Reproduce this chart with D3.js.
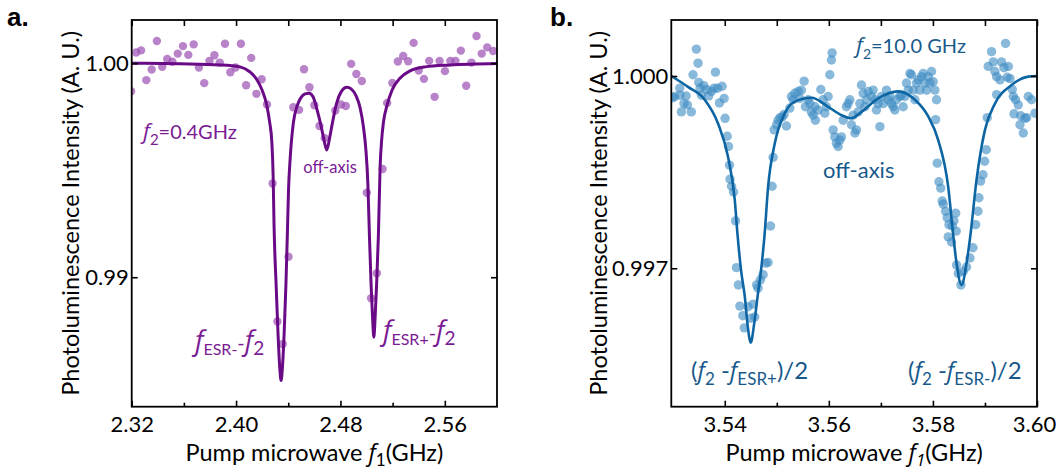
<!DOCTYPE html>
<html>
<head>
<meta charset="utf-8">
<script src="https://cdn.jsdelivr.net/npm/d3@7"></script>
<style>
  body { margin: 0; background: #ffffff; }
  svg { display: block; }
</style>
</head>
<body>
<div id="chart"></div>
<script>
// ---- panel a: f2 = 0.4 GHz (frequency GHz, normalised PL) ----
const aPoints = [
  [2.3195,0.99869],[2.3234,1.00050],[2.3272,1.00060],[2.3312,0.99921],[2.3353,0.99971],[2.3393,1.00104],
  [2.3434,0.99983],[2.3472,1.00020],[2.3512,1.00007],[2.3553,1.00045],[2.3593,1.00080],[2.3634,1.00039],
  [2.3675,1.00088],[2.3715,0.99980],[2.3756,0.99907],[2.3796,1.00011],[2.3834,1.00037],[2.3875,1.00003],
  [2.3915,1.00091],[2.3956,0.99958],[2.3996,0.99980],[2.4037,1.00091],[2.4077,0.99897],[2.4116,1.00025],
  [2.4156,0.99857],[2.4196,0.99925],[2.4237,0.99807],[2.4280,0.99438],[2.4317,0.98793],[2.4358,0.98688],
  [2.4402,0.99096],[2.4439,0.99794],[2.4483,0.99782],[2.4521,0.99972],[2.4562,0.99888],[2.4600,0.99804],
  [2.4639,0.99707],[2.4680,0.99650],[2.4761,0.99779],[2.4803,0.99807],[2.4841,0.99800],[2.4882,0.99997],
  [2.4922,0.99950],[2.4964,0.99917],[2.5002,0.99395],[2.5035,0.98902],[2.5079,0.99019],[2.5123,0.99506],
  [2.5158,0.99814],[2.5198,0.99908],[2.5240,1.00008],[2.5281,1.00034],[2.5319,1.00009],[2.5361,1.00095],
  [2.5400,0.99966],[2.5440,0.99927],[2.5480,1.00011],[2.5522,0.99843],[2.5560,1.00011],[2.5601,0.99963],
  [2.5642,1.00011],[2.5682,1.00011],[2.5723,1.00059],[2.5764,0.99895],[2.5804,1.00003],[2.5843,1.00127],
  [2.5883,1.00045],[2.5925,1.00074],[2.5971,1.00057]
];
const aFit = [
  [2.3200,1.00000],[2.3570,0.99997],[2.3877,0.99992],[2.4030,0.99983],[2.4107,0.99959],[2.4161,0.99922],
  [2.4199,0.99875],[2.4235,0.99805],[2.4257,0.99726],[2.4274,0.99632],[2.4284,0.99478],[2.4291,0.99244],
  [2.4307,0.98964],[2.4322,0.98730],[2.4336,0.98567],[2.4345,0.98517],[2.4354,0.98567],[2.4368,0.98730],
  [2.4382,0.98964],[2.4393,0.99198],[2.4402,0.99408],[2.4414,0.99548],[2.4439,0.99721],[2.4468,0.99800],
  [2.4491,0.99833],[2.4529,0.99857],[2.4560,0.99860],[2.4590,0.99843],[2.4621,0.99782],[2.4648,0.99716],
  [2.4671,0.99651],[2.4695,0.99595],[2.4717,0.99651],[2.4740,0.99726],[2.4771,0.99814],[2.4805,0.99866],
  [2.4849,0.99888],[2.4882,0.99880],[2.4920,0.99847],[2.4951,0.99791],[2.4976,0.99704],[2.4995,0.99595],
  [2.5010,0.99441],[2.5022,0.99198],[2.5035,0.98964],[2.5047,0.98800],[2.5056,0.98720],[2.5065,0.98800],
  [2.5077,0.98964],[2.5091,0.99198],[2.5104,0.99515],[2.5116,0.99642],[2.5129,0.99721],[2.5158,0.99805],
  [2.5196,0.99875],[2.5258,0.99931],[2.5334,0.99964],[2.5449,0.99983],[2.5641,0.99992],[2.6001,0.99999]
];
const aXDomain = [2.32, 2.60];
const aYDomain = [0.98395, 1.00202];
const aXTicks = [2.32, 2.40, 2.48, 2.56];
const aXMinor = [2.36, 2.44, 2.52];
const aYTicks = [0.99, 1.00];

// ---- panel b: f2 = 10.0 GHz ----
const bPoints = [
  [3.53000,0.99966],[3.53038,0.99968],[3.53135,0.99981],[3.53167,0.99944],[3.53217,0.99957],[3.53281,0.99955],
  [3.53358,0.99944],[3.53390,1.00002],[3.53454,1.00042],[3.53487,1.00020],[3.53500,0.99990],[3.53552,0.99970],
  [3.53596,0.99985],[3.53654,0.99979],[3.53692,0.99969],[3.53744,0.99976],[3.53796,0.99981],[3.53821,1.00006],
  [3.53860,0.99981],[3.53898,0.99958],[3.53950,0.99984],[3.53988,0.99965],[3.53140,0.99970],[3.53256,0.99969],
  [3.53525,0.99981],[3.54006,0.99934],[3.54048,0.99906],[3.54073,0.99890],[3.54092,0.99861],[3.54102,0.99839],
  [3.54131,0.99828],[3.54169,0.99819],[3.54208,0.99774],[3.54225,0.99701],[3.54262,0.99674],[3.54290,0.99641],
  [3.54348,0.99626],[3.54375,0.99607],[3.54448,0.99640],[3.54500,0.99622],[3.54544,0.99644],[3.54577,0.99624],
  [3.54612,0.99674],[3.54640,0.99669],[3.54685,0.99682],[3.54737,0.99690],[3.54788,0.99708],[3.54833,0.99709],
  [3.54879,0.99766],[3.54910,0.99828],[3.54929,0.99873],[3.54948,0.99916],[3.54996,0.99924],[3.55025,0.99931],
  [3.55063,0.99935],[3.55102,0.99936],[3.55140,0.99940],[3.55185,0.99922],[3.55250,0.99950],[3.55281,0.99968],
  [3.55313,0.99963],[3.55346,0.99973],[3.55410,0.99976],[3.55442,0.99965],[3.55473,0.99978],[3.55525,0.99992],
  [3.55550,0.99952],[3.55602,0.99963],[3.55635,0.99957],[3.55665,0.99944],[3.55698,0.99939],[3.55731,0.99952],
  [3.55742,0.99931],[3.55794,0.99947],[3.55846,0.99979],[3.55890,0.99963],[3.55923,0.99942],[3.55954,0.99952],
  [3.55987,0.99968],[3.56019,1.00002],[3.56050,1.00025],[3.56063,1.00036],[3.56083,0.99916],[3.56115,0.99905],
  [3.56146,0.99895],[3.56179,0.99890],[3.56212,0.99900],[3.56242,0.99905],[3.56275,0.99931],[3.56338,0.99952],
  [3.56371,0.99957],[3.56404,0.99963],[3.56435,0.99924],[3.56467,0.99939],[3.56500,0.99911],[3.56531,0.99916],
  [3.56563,0.99944],[3.56596,0.99957],[3.56627,0.99986],[3.56660,0.99973],[3.56692,0.99952],[3.56723,0.99963],
  [3.56756,0.99976],[3.56819,0.99968],[3.56852,0.99978],[3.56885,0.99963],[3.56915,0.99947],[3.56948,0.99957],
  [3.56981,0.99921],[3.57012,0.99968],[3.57044,0.99957],[3.57108,0.99978],[3.57140,0.99963],[3.57173,0.99968],
  [3.57204,0.99957],[3.57237,0.99952],[3.57269,0.99947],[3.57300,0.99963],[3.57365,0.99968],[3.57396,0.99970],
  [3.57429,0.99952],[3.57462,0.99968],[3.57492,0.99989],[3.57525,0.99978],[3.57558,1.00004],[3.57588,1.00002],
  [3.57621,0.99978],[3.57654,0.99963],[3.57685,0.99989],[3.57717,0.99994],[3.57750,0.99978],[3.57781,0.99999],
  [3.57813,1.00004],[3.57846,0.99989],[3.57877,0.99978],[3.57910,0.99999],[3.57942,0.99989],[3.57973,1.00007],
  [3.58006,0.99991],[3.58038,0.99978],[3.58069,0.99963],[3.58052,0.99932],[3.58083,0.99864],[3.58115,0.99835],
  [3.58150,0.99825],[3.58179,0.99805],[3.58198,0.99800],[3.58244,0.99789],[3.58275,0.99779],[3.58308,0.99768],
  [3.58371,0.99766],[3.58404,0.99774],[3.58437,0.99786],[3.58448,0.99758],[3.58454,0.99705],[3.58487,0.99692],
  [3.58538,0.99674],[3.58583,0.99695],[3.58646,0.99702],[3.58712,0.99716],[3.58769,0.99732],[3.58821,0.99768],
  [3.58865,0.99789],[3.58885,0.99810],[3.58917,0.99836],[3.58962,0.99846],[3.58994,0.99867],[3.59025,0.99885],
  [3.59044,0.99935],[3.58294,0.99749],[3.58358,0.99741],[3.59063,1.00015],[3.59127,1.00038],[3.59160,1.00022],
  [3.59192,1.00007],[3.59223,0.99999],[3.59225,0.99971],[3.59288,0.99994],[3.59319,1.00022],[3.59396,1.00051],
  [3.59448,1.00015],[3.59481,0.99996],[3.59525,0.99979],[3.59544,0.99968],[3.59558,0.99941],[3.59588,0.99963],
  [3.59640,0.99955],[3.59673,0.99924],[3.59737,0.99911],[3.59769,0.99934],[3.59833,0.99968],[3.59896,0.99963],
  [3.59962,0.99942],[3.59365,1.00013],[3.59429,0.99998],[3.59687,0.99938],[3.59802,0.99935]
];
const bFit = [
  [3.52973,1.00000],[3.53294,0.99983],[3.53615,0.99963],[3.53871,0.99926],[3.54063,0.99874],[3.54192,0.99807],
  [3.54246,0.99752],[3.54313,0.99697],[3.54385,0.99656],[3.54438,0.99612],[3.54500,0.99584],[3.54563,0.99612],
  [3.54631,0.99656],[3.54698,0.99697],[3.54765,0.99752],[3.54833,0.99827],[3.54962,0.99895],[3.55154,0.99942],
  [3.55346,0.99960],[3.55665,0.99966],[3.55987,0.99952],[3.56242,0.99939],[3.56435,0.99934],[3.56627,0.99944],
  [3.56948,0.99965],[3.57333,0.99976],[3.57654,0.99963],[3.57910,0.99937],[3.58102,0.99900],[3.58294,0.99827],
  [3.58390,0.99752],[3.58454,0.99708],[3.58550,0.99674],[3.58646,0.99708],[3.58721,0.99752],[3.58838,0.99838],
  [3.59000,0.99916],[3.59192,0.99957],[3.59512,0.99986],[3.59833,0.99999],[3.60006,1.00000]
];
const bXDomain = [3.52973, 3.60];
const bYDomain = [0.99484, 1.000874];
const bXTicks = [3.54, 3.56, 3.58, 3.60];
const bXMinor = [3.55, 3.57, 3.59];
const bYTicks = [0.997, 1.000];

const svg = d3.select("#chart")
  .append("svg")
  .attr("width", 1058)
  .attr("height", 474)
  .style("font-family", "Lato, sans-serif");

// writes a label made of pieces (italic f, subscripts ...)
function richText(parent, x, y, parts, color, size, anchor) {
  const t = parent.append("text")
    .attr("x", x)
    .attr("y", y)
    .attr("fill", color)
    .attr("text-anchor", anchor || "start")
    .style("font-size", size + "px");
  parts.forEach(p => {
    const ts = t.append("tspan").text(p.t);
    if (p.it) ts.style("font-style", "italic").style("font-family", "'Open Sans', sans-serif");
    if (p.size) ts.style("font-size", p.size + "px");
    if (p.dy) ts.attr("dy", p.dy);
  });
  return t;
}

function drawPanel(o) {
  const g = svg.append("g");
  const x = d3.scaleLinear().domain(o.xDomain).range([o.left, o.right]);
  const y = d3.scaleLinear().domain(o.yDomain).range([o.bottom, o.top]);

  const clipId = "clip-" + o.name;
  svg.append("clipPath").attr("id", clipId)
    .append("rect")
    .attr("x", o.left).attr("y", o.top)
    .attr("width", o.right - o.left).attr("height", o.bottom - o.top);

  const plot = g.append("g").attr("clip-path", `url(#${clipId})`);

  plot.selectAll("circle")
    .data(o.points)
    .enter()
    .append("circle")
    .attr("cx", d => x(d[0]))
    .attr("cy", d => y(d[1]))
    .attr("r", o.r)
    .attr("fill", o.dot)
    .attr("fill-opacity", o.dotOpacity);

  plot.append("path")
    .datum(o.fit)
    .attr("fill", "none")
    .attr("stroke", o.line)
    .attr("stroke-width", o.lineWidth)
    .attr("stroke-linejoin", "round")
    .attr("d", d3.line()
      .x(d => x(d[0]))
      .y(d => y(d[1]))
      .curve(d3.curveMonotoneX));

  // axes, ticks pointing inwards
  const bottom = g.append("g")
    .attr("transform", `translate(0,${o.bottom})`)
    .call(d3.axisBottom(x).tickValues(o.xTicks).tickFormat(d3.format(".2f"))
      .tickSize(-6).tickPadding(10));
  const bottomMinor = g.append("g")
    .attr("transform", `translate(0,${o.bottom})`)
    .call(d3.axisBottom(x).tickValues(o.xMinor).tickFormat("").tickSize(-4));
  const top = g.append("g")
    .attr("transform", `translate(0,${o.top})`)
    .call(d3.axisTop(x).tickValues(o.xTicks.concat(o.xMinor)).tickFormat("").tickSize(-6));
  const left = g.append("g")
    .attr("transform", `translate(${o.left},0)`)
    .call(d3.axisLeft(y).tickValues(o.yTicks).tickFormat(d3.format(o.yFormat))
      .tickSize(-6).tickPadding(3));
  const right = g.append("g")
    .attr("transform", `translate(${o.right},0)`)
    .call(d3.axisRight(y).tickValues(o.yTicks).tickFormat("").tickSize(-6));

  [bottom, bottomMinor, top, left, right].forEach(a => {
    a.select(".domain").remove();
    a.selectAll("line").attr("stroke", "#000").attr("stroke-width", 1.6);
    a.selectAll("text")
      .style("font-family", "Lato, sans-serif")
      .style("font-size", "22px")
      .attr("fill", "#000");
  });

  // keep the last bottom label inside the page
  bottom.selectAll("text")
    .filter(d => x(d) + 22 > 1058)
    .attr("x", d => 1056 - 22 - x(d));

  g.append("rect")
    .attr("x", o.left).attr("y", o.top)
    .attr("width", o.right - o.left).attr("height", o.bottom - o.top)
    .attr("fill", "none")
    .attr("stroke", "#000")
    .attr("stroke-width", 1.8);

  // axis titles
  const cx = (o.left + o.right) / 2;
  richText(g, cx, 461, [
    {t: "Pump microwave "},
    {t: "f", it: true},
    {t: "1", size: 17, dy: 5, it: o.subItalic},
    {t: "(GHz)", dy: -5}
  ], "#000", 23.5, "middle");

  g.append("text")
    .attr("transform", `translate(${o.yTitleX},${(o.top + o.bottom) / 2}) rotate(-90)`)
    .attr("text-anchor", "middle")
    .style("font-size", "23.5px")
    .attr("fill", "#000")
    .text("Photoluminescence Intensity (A. U.)");

  // panel letter
  g.append("text")
    .attr("x", o.letterX).attr("y", 26)
    .style("font-family", "'Liberation Sans', Arial, sans-serif")
    .style("font-weight", "bold")
    .style("font-size", "26px")
    .attr("fill", "#000")
    .text(o.letter);

  return g;
}

const purpleText = "#7b1b94";
const blueText = "#18598c";

const ga = drawPanel({
  name: "a", letter: "a.", letterX: 7,
  left: 131.7, right: 497, top: 20, bottom: 406.7,
  xDomain: aXDomain, yDomain: aYDomain,
  xTicks: aXTicks, xMinor: aXMinor, yTicks: aYTicks, yFormat: ".2f",
  points: aPoints, fit: aFit,
  r: 4.2, dot: "#9b4fb3", dotOpacity: 0.7,
  line: "#6a0a86", lineWidth: 3,
  yTitleX: 79, subItalic: false
});

richText(ga, 143, 139, [
  {t: "f", it: true, size: 22},
  {t: "2", size: 15, dy: 6},
  {t: "=0.4GHz", dy: -6}
], purpleText, 20);
ga.append("text").attr("x", 330).attr("y", 172.5).attr("text-anchor", "middle")
  .attr("fill", purpleText).style("font-size", "16.5px").text("off-axis");
richText(ga, 195, 350, [
  {t: "f", it: true, size: 27},
  {t: "ESR-", size: 16, dy: 5},
  {t: "-", size: 20, dy: -5},
  {t: "f", it: true, size: 27},
  {t: "2", size: 19, dy: 5}
], purpleText, 22);
richText(ga, 383, 340, [
  {t: "f", it: true, size: 27},
  {t: "ESR+", size: 16, dy: 5},
  {t: "-", size: 20, dy: -5},
  {t: "f", it: true, size: 27},
  {t: "2", size: 19, dy: 5}
], purpleText, 22);

const gb = drawPanel({
  name: "b", letter: "b.", letterX: 550,
  left: 671.3, right: 1037, top: 20, bottom: 406.7,
  xDomain: bXDomain, yDomain: bYDomain,
  xTicks: bXTicks, xMinor: bXMinor, yTicks: bYTicks, yFormat: ".3f",
  points: bPoints, fit: bFit,
  r: 4.7, dot: "#3f8cc4", dotOpacity: 0.62,
  line: "#0d65a3", lineWidth: 2.6,
  yTitleX: 607, subItalic: true
});

richText(gb, 856, 53, [
  {t: "f", it: true, size: 22},
  {t: "2", size: 14, dy: 6},
  {t: "=10.0 GHz", dy: -6}
], blueText, 20);
gb.append("text").attr("x", 823).attr("y", 178).attr("fill", blueText)
  .style("font-size", "22px").text("off-axis");
richText(gb, 691, 379, [
  {t: "("},
  {t: "f", it: true},
  {t: "2", size: 17, dy: 6},
  {t: " -", dy: -6},
  {t: "f", it: true},
  {t: "ESR+", size: 17, dy: 6},
  {t: ")/2", dy: -6}
], blueText, 24);
richText(gb, 908, 379, [
  {t: "("},
  {t: "f", it: true},
  {t: "2", size: 17, dy: 6},
  {t: " -", dy: -6},
  {t: "f", it: true},
  {t: "ESR-", size: 17, dy: 6},
  {t: ")/2", dy: -6}
], blueText, 24);
</script>
</body>
</html>
